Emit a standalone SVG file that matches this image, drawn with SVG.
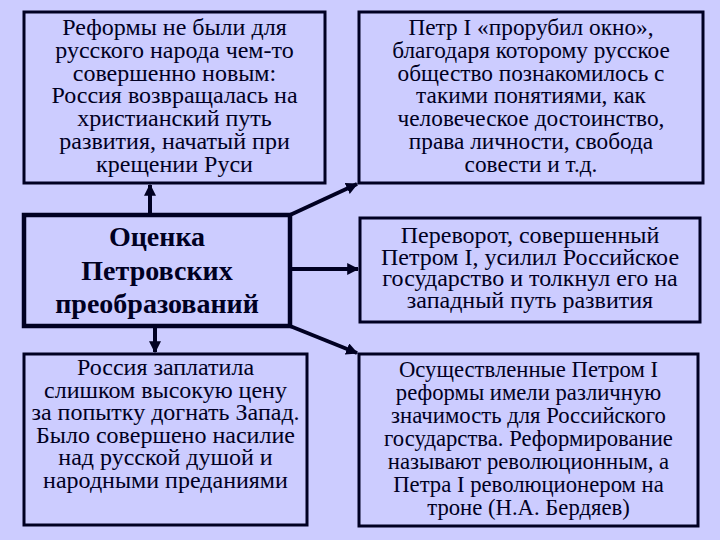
<svg xmlns="http://www.w3.org/2000/svg" width="720" height="540" viewBox="0 0 720 540">
<style>
.box{fill:#ccccff;stroke:#000022;stroke-width:3}
.main{fill:#ccccff;stroke:#000022;stroke-width:4.5}
.t{font-family:"Liberation Serif","Times New Roman",serif;font-size:24px;fill:#000022;text-anchor:middle}
.s2{font-size:23.3px}
.s6{font-size:22.7px}
.b{font-family:"Liberation Serif","Times New Roman",serif;font-size:28px;font-weight:bold;fill:#000022;text-anchor:middle}
.c{stroke:#000022;stroke-width:4;fill:none;marker-end:url(#ah)}
</style>
<defs>
<marker id="ah" viewBox="0 0 10 10" refX="9" refY="5" markerWidth="3" markerHeight="3" orient="auto" markerUnits="strokeWidth">
<path d="M0,0 L10,5 L0,10 z" fill="#000022"/>
</marker>
</defs>
<rect width="720" height="540" fill="#ccccff"/>
<g id="connectors">
<line class="c" x1="150" y1="215" x2="150" y2="185"/>
<line class="c" x1="290" y1="215" x2="357" y2="184"/>
<line class="c" x1="290" y1="269" x2="358" y2="269"/>
<line class="c" x1="290" y1="326" x2="357" y2="353"/>
<line class="c" x1="155" y1="326" x2="155" y2="352"/>
</g>
<g id="n1">
<rect class="box" x="24" y="12" width="301" height="171"/>
<text class="t" x="174.5" y="35">Реформы не были для</text>
<text class="t" x="174.5" y="57.8">русского народа чем-то</text>
<text class="t" x="174.5" y="80.6">совершенно новым:</text>
<text class="t" x="174.5" y="103.4">Россия возвращалась на</text>
<text class="t" x="174.5" y="126.2">христианский путь</text>
<text class="t" x="174.5" y="149">развития, начатый при</text>
<text class="t" x="174.5" y="171.8">крещении Руси</text>
</g>
<g id="n2">
<rect class="box" x="359" y="12" width="344" height="171"/>
<text class="t s2" x="531" y="35">Петр I «прорубил окно»,</text>
<text class="t s2" x="531" y="57.8">благодаря которому русское</text>
<text class="t s2" x="531" y="80.6">общество познакомилось с</text>
<text class="t s2" x="531" y="103.4">такими понятиями, как</text>
<text class="t s2" x="531" y="126.2">человеческое достоинство,</text>
<text class="t s2" x="531" y="149">права личности, свобода</text>
<text class="t s2" x="531" y="171.8">совести и т.д.</text>
</g>
<g id="center">
<rect class="main" x="24" y="215" width="266" height="111"/>
<text class="b" x="157" y="246">Оценка</text>
<text class="b" x="157" y="280">Петровских</text>
<text class="b" x="157" y="313">преобразований</text>
</g>
<g id="n4">
<rect class="box" x="360" y="218" width="340" height="104"/>
<text class="t" x="530" y="243">Переворот, совершенный</text>
<text class="t" x="530" y="264.7">Петром I, усилил Российское</text>
<text class="t" x="530" y="286.4">государство и толкнул его на</text>
<text class="t" x="530" y="308">западный путь развития</text>
</g>
<g id="n5">
<rect class="box" x="24" y="354" width="283" height="171"/>
<text class="t" x="165.5" y="375">Россия заплатила</text>
<text class="t" x="165.5" y="397.5">слишком высокую цену</text>
<text class="t" x="165.5" y="420">за попытку догнать Запад.</text>
<text class="t" x="165.5" y="442.5">Было совершено насилие</text>
<text class="t" x="165.5" y="465">над русской душой и</text>
<text class="t" x="165.5" y="487.5">народными преданиями</text>
</g>
<g id="n6">
<rect class="box" x="359" y="354" width="339" height="172"/>
<text class="t s6" x="528.5" y="377">Осуществленные Петром I</text>
<text class="t s6" x="528.5" y="400">реформы имели различную</text>
<text class="t s6" x="528.5" y="423">значимость для Российского</text>
<text class="t s6" x="528.5" y="446">государства. Реформирование</text>
<text class="t s6" x="528.5" y="469">называют революционным, а</text>
<text class="t s6" x="528.5" y="492">Петра I революционером на</text>
<text class="t s6" x="528.5" y="515">троне (Н.А. Бердяев)</text>
</g>
</svg>
